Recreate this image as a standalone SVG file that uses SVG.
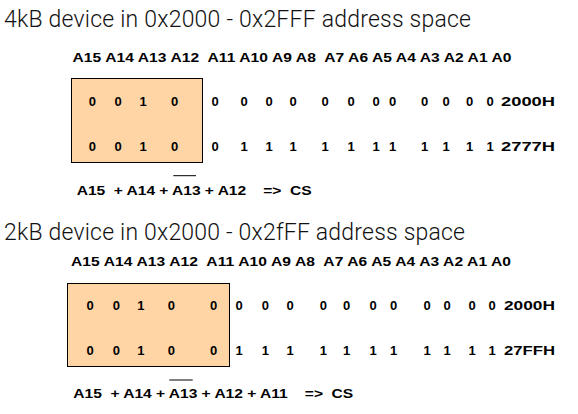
<svg xmlns="http://www.w3.org/2000/svg" width="578" height="414" viewBox="0 0 578 414">
<style>
.title{font-family:Roboto,"Liberation Sans",Arial,sans-serif;font-size:23px;font-weight:300;fill:#111;}
.b{font-family:"Liberation Sans",Arial,sans-serif;font-size:13px;font-weight:bold;fill:#000;}
.d{font-family:"Liberation Sans",Arial,sans-serif;font-size:13px;font-weight:bold;fill:#000;text-anchor:middle;}
.box{fill:#FFD5A6;stroke:#000;stroke-width:1;}
.ov{stroke:#000;stroke-width:1;}
</style>
<rect width="578" height="414" fill="#fff"/>
<g id="section1">
<text class="title" x="4" y="27" textLength="467" lengthAdjust="spacing">4kB device in 0x2000 - 0x2FFF address space</text>
<g id="box1">
<rect class="box" x="71.5" y="78.5" width="131" height="84"/>
<text class="d" y="106"><tspan x="92.3">0</tspan><tspan x="118">0</tspan><tspan x="143">1</tspan><tspan x="174.5">0</tspan></text>
<text class="d" y="151"><tspan x="92.3">0</tspan><tspan x="118">0</tspan><tspan x="143">1</tspan><tspan x="174.5">0</tspan></text>
</g>
<g id="header1" transform="scale(1.2 1)">
<text class="b" x="60.42" y="62" textLength="365.8" lengthAdjust="spacing" xml:space="preserve">A15 A14 A13 A12  A11 A10 A9 A8  A7 A6 A5 A4 A3 A2 A1 A0</text>
</g>
<g id="row1a">
<text class="d" y="106"><tspan x="215">0</tspan><tspan x="244">0</tspan><tspan x="269">0</tspan><tspan x="293">0</tspan><tspan x="325">0</tspan><tspan x="351">0</tspan><tspan x="376">0</tspan><tspan x="392.5">0</tspan><tspan x="424.5">0</tspan><tspan x="446">0</tspan><tspan x="469.5">0</tspan><tspan x="490">0</tspan></text>
<text class="b" x="501" y="106" textLength="54" lengthAdjust="spacingAndGlyphs">2000H</text>
</g>
<g id="row1b">
<text class="d" y="151"><tspan x="215">0</tspan><tspan x="244">1</tspan><tspan x="269">1</tspan><tspan x="293">1</tspan><tspan x="325">1</tspan><tspan x="351">1</tspan><tspan x="376">1</tspan><tspan x="392.5">1</tspan><tspan x="424.5">1</tspan><tspan x="446">1</tspan><tspan x="469.5">1</tspan><tspan x="490">1</tspan></text>
<text class="b" x="501" y="151" textLength="54" lengthAdjust="spacingAndGlyphs">2777H</text>
</g>
<g id="eq1">
<text class="b" transform="scale(1.2 1)" x="63.92" y="195" textLength="195.8" lengthAdjust="spacing" xml:space="preserve">A15  + A14 + A13 + A12    =&gt;  CS</text>
<line class="ov" x1="173.3" y1="175.7" x2="196" y2="175.7"/>
</g>
</g>
<g id="section2">
<text class="title" x="4" y="240" textLength="461" lengthAdjust="spacing">2kB device in 0x2000 - 0x2fFF address space</text>
<g id="box2">
<rect class="box" x="67.5" y="283.5" width="162" height="83"/>
<text class="d" y="310"><tspan x="90">0</tspan><tspan x="116.3">0</tspan><tspan x="140.8">1</tspan><tspan x="171.3">0</tspan><tspan x="213.7">0</tspan></text>
<text class="d" y="355"><tspan x="90">0</tspan><tspan x="116.3">0</tspan><tspan x="140.8">1</tspan><tspan x="171.3">0</tspan><tspan x="213.7">0</tspan></text>
</g>
<g id="header2" transform="scale(1.2 1)">
<text class="b" x="59.17" y="266" textLength="366.7" lengthAdjust="spacing" xml:space="preserve">A15 A14 A13 A12  A11 A10 A9 A8  A7 A6 A5 A4 A3 A2 A1 A0</text>
</g>
<g id="row2a">
<text class="d" y="310"><tspan x="239">0</tspan><tspan x="265.3">0</tspan><tspan x="290">0</tspan><tspan x="323.3">0</tspan><tspan x="346.7">0</tspan><tspan x="373">0</tspan><tspan x="393.7">0</tspan><tspan x="427">0</tspan><tspan x="447">0</tspan><tspan x="472">0</tspan><tspan x="492">0</tspan></text>
<text class="b" x="504" y="310" textLength="51" lengthAdjust="spacingAndGlyphs">2000H</text>
</g>
<g id="row2b">
<text class="d" y="355"><tspan x="239">1</tspan><tspan x="265.3">1</tspan><tspan x="290">1</tspan><tspan x="323.3">1</tspan><tspan x="346.7">1</tspan><tspan x="373">1</tspan><tspan x="393.7">1</tspan><tspan x="427">1</tspan><tspan x="447">1</tspan><tspan x="472">1</tspan><tspan x="492">1</tspan></text>
<text class="b" x="504" y="355" textLength="51" lengthAdjust="spacingAndGlyphs">27FFH</text>
</g>
<g id="eq2">
<text class="b" transform="scale(1.2 1)" x="61.08" y="398" textLength="233.3" lengthAdjust="spacing" xml:space="preserve">A15  + A14 + A13 + A12 + A11    =&gt;  CS</text>
<line class="ov" x1="169.3" y1="380" x2="192.7" y2="380"/>
</g>
</g>
<g id="connectors"/>
</svg>
